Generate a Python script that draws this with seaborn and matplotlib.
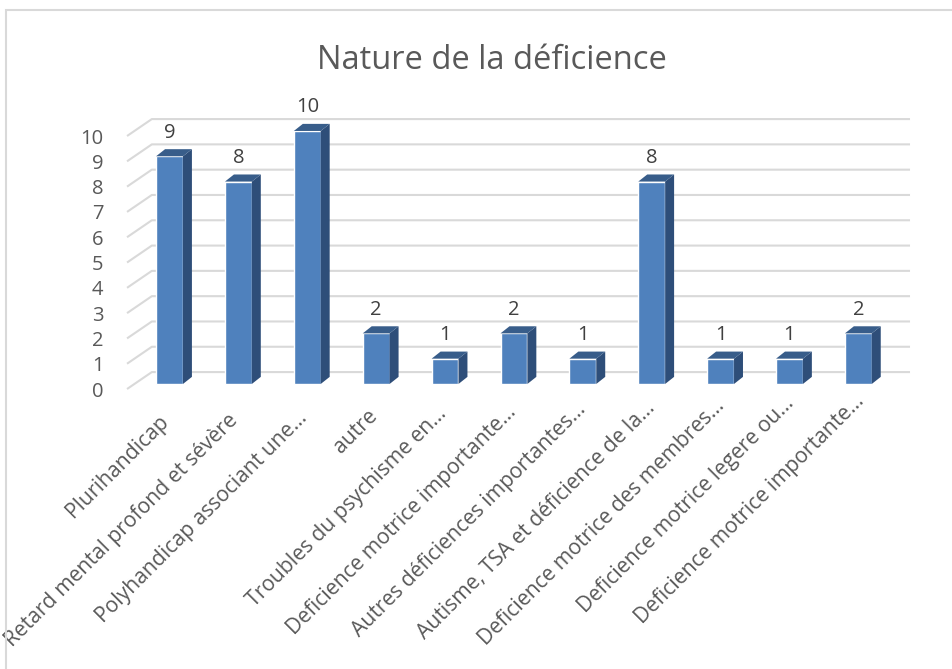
import numpy as np
import matplotlib.pyplot as plt
import matplotlib.transforms as mtransforms
import seaborn as sns
import pandas as pd
from matplotlib.patches import Polygon, Rectangle

categories = ['Plurihandicap', 'Retard mental profond et sévère', 'Polyhandicap associant une...',
              'autre', 'Troubles du psychisme en...', 'Deficience motrice importante...',
              'Autres déficiences importantes...', 'Autisme, TSA et déficience de la...',
              'Deficience motrice des membres...', 'Deficience motrice legere ou...',
              'Deficience motrice importante...']
values = [9, 8, 10, 2, 1, 2, 1, 8, 1, 1, 2]
yticks = list(range(0, 11))

sns.set_style("white")
plt.rcParams['font.family'] = ['Open Sans', 'DejaVu Sans']

front = '#4f81bd'
side = '#2e4e79'
top = '#385d8a'
grid = '#d9d9d9'
txt = '#595959'

df = pd.DataFrame({'nature': categories, 'n': values})
df['pos'] = range(len(df))

fig = plt.figure(figsize=(9.53, 6.69), dpi=100)
fig.patches.append(Rectangle((0.0063, -0.02), 1.0, 1.005, transform=fig.transFigure,
                             fill=False, edgecolor=grid, lw=1.5))
ax = fig.add_axes([0.1333, 0.4185, 0.8216, 0.416])

sns.barplot(data=df, x='pos', y='n', color=front, width=0.39, saturation=1,
            ax=ax, zorder=3)

# fake 3d: bars sit a bit behind the front plane, with a dark side and top
base = 0.2
dx, dy = 0.13, 0.28
for p in ax.patches:
    p.set_y(base)
    x0, w, h = p.get_x(), p.get_width(), p.get_height()
    x1 = x0 + w
    ax.add_patch(Polygon([(x1, base), (x1 + dx, base + dy), (x1 + dx, base + h + dy), (x1, base + h)],
                         closed=True, facecolor=side, edgecolor='none', zorder=3))
    ax.add_patch(Polygon([(x0, base + h), (x0 + dx, base + h + dy), (x1 + dx, base + h + dy), (x1, base + h)],
                         closed=True, facecolor=top, edgecolor='none', zorder=3))

xl, xr = -0.617, 10.75
gdx, gdy = 0.36, 0.67
for v in yticks:
    ax.plot([xl, xl + gdx, xr], [v, v + gdy, v + gdy], color=grid, lw=1.5,
            zorder=1, clip_on=False, solid_capstyle='butt')

for i, v in enumerate(values):
    ax.annotate(str(v), (i, v + base), xytext=(0, 17), textcoords='offset points',
                ha='center', va='center', fontsize=14.5, color='#404040')

ax.set_xlim(xl, xr)
ax.set_ylim(0, 11)
ax.set_yticks(yticks)
ax.set_yticklabels([str(t) for t in yticks], fontsize=14.5, color=txt)
ax.set_xticks(range(len(categories)))
ax.set_xticklabels([])
ax.tick_params(axis='y', length=0, pad=17)
ax.tick_params(axis='x', length=0)
ax.set_xlabel('')
ax.set_ylabel('')
sns.despine(ax=ax, left=True, bottom=True)

# category labels, slanted like the excel 3d axis (drift a little per category)
for i, lab in enumerate(categories):
    off = mtransforms.ScaledTranslation((-4 + 0.65 * i) / 100, -(30 - 2.05 * i) / 100,
                                        fig.dpi_scale_trans)
    ax.text(i, 0, lab, rotation=45, rotation_mode='anchor', ha='right', va='center',
            fontsize=15.2, color=txt, transform=ax.transData + off, clip_on=False)

fig.text(0.516, 0.91, 'Nature de la déficience', ha='center', va='center',
         fontsize=23.5, color=txt)

fig.savefig('out.png', dpi=100)
